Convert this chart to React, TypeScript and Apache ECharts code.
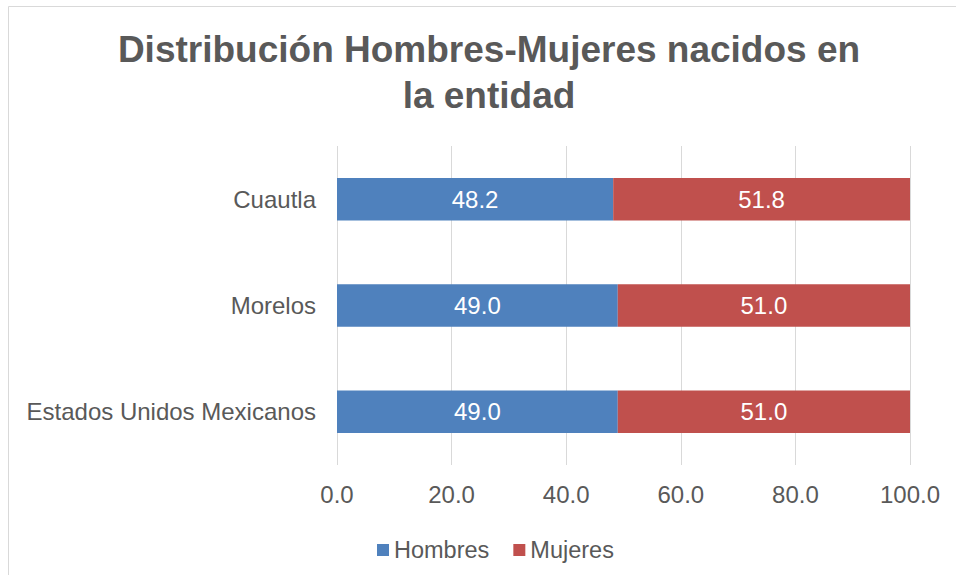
import React, { useEffect, useRef } from "react";
import * as echarts from "echarts";

const categories = ["Cuautla", "Morelos", "Estados Unidos Mexicanos"];
const hombres = [48.2, 49.0, 49.0];
const mujeres = [51.8, 51.0, 51.0];
const seriesNames = ["Hombres", "Mujeres"];
const titleText = "Distribución Hombres-Mujeres nacidos en\nla entidad";

const FONT = "'Liberation Sans', Arial, sans-serif";
const GREY = "#595959";

export default function App() {
  const ref = useRef<HTMLDivElement>(null);
  useEffect(() => {
    if (!ref.current) return;
    const chart = echarts.init(ref.current, undefined, { renderer: "svg" });
    chart.setOption({
      animation: false,
      backgroundColor: "#ffffff",
      textStyle: { fontFamily: FONT },
      title: {
        text: titleText,
        left: 489,
        textAlign: "center",
        top: 26,
        padding: 0,
        textStyle: {
          fontFamily: FONT,
          fontSize: 37,
          fontWeight: "bold",
          color: GREY,
          lineHeight: 46,
        },
      },
      graphic: [
        {
          type: "rect",
          shape: { x: 8.5, y: 6.5, width: 1200, height: 1200 },
          style: { fill: "none", stroke: "#d9d9d9", lineWidth: 1 },
          silent: true,
          z: -1,
        },
      ],
      legend: {
        data: seriesNames,
        left: 372,
        top: 533,
        icon: "rect",
        itemWidth: 12,
        itemHeight: 12,
        itemGap: 24,
        textStyle: { fontFamily: FONT, fontSize: 23.5, color: GREY },
      },
      grid: { left: 337, right: 46, top: 146, bottom: 110, containLabel: false },
      xAxis: {
        type: "value",
        min: 0,
        max: 100,
        interval: 20,
        axisLine: { show: false },
        axisTick: { show: false },
        splitLine: { show: true, lineStyle: { color: "#d9d9d9", width: 1 } },
        axisLabel: {
          fontFamily: FONT,
          fontSize: 24,
          color: GREY,
          margin: 17,
          formatter: (v: number) => v.toFixed(1),
        },
      },
      yAxis: {
        type: "category",
        inverse: true,
        data: categories,
        axisLine: { show: false },
        axisTick: { show: false },
        axisLabel: { fontFamily: FONT, fontSize: 24, color: GREY, margin: 21 },
      },
      series: [
        {
          name: seriesNames[0],
          type: "bar",
          stack: "total",
          data: hombres,
          barWidth: 42.5,
          itemStyle: { color: "#4F81BD" },
          label: {
            show: true,
            position: "inside",
            color: "#ffffff",
            fontFamily: FONT,
            fontSize: 24,
            formatter: (p: any) => Number(p.value).toFixed(1),
          },
        },
        {
          name: seriesNames[1],
          type: "bar",
          stack: "total",
          data: mujeres,
          barWidth: 42.5,
          itemStyle: { color: "#C0504D" },
          label: {
            show: true,
            position: "inside",
            color: "#ffffff",
            fontFamily: FONT,
            fontSize: 24,
            formatter: (p: any) => Number(p.value).toFixed(1),
          },
        },
      ],
    });
    return () => chart.dispose();
  }, []);
  return (
    <div
      ref={ref}
      style={{ position: "fixed", left: 0, top: 0, width: 956, height: 575 }}
    />
  );
}
